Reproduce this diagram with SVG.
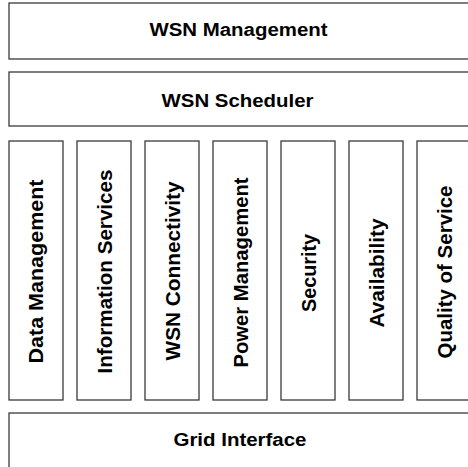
<svg xmlns="http://www.w3.org/2000/svg" width="468" height="467" viewBox="0 0 468 467">
<style>
rect{fill:#fff;stroke:#3a3a3a;stroke-width:1.3}
text{font-family:"Liberation Sans",Arial,sans-serif;font-weight:bold;fill:#000;text-anchor:middle}
.h{font-size:17.5px}
.v{font-size:19.5px}
</style>
<rect x="0" y="0" width="468" height="467" style="fill:#fff;stroke:none"/>
<g id="wsn-management"><rect x="9" y="3" width="470" height="56"/><text class="h" x="238.5" y="35.5" textLength="178" lengthAdjust="spacingAndGlyphs">WSN Management</text></g>
<g id="wsn-scheduler"><rect x="9" y="72" width="470" height="54"/><text class="h" x="237.5" y="107" textLength="152" lengthAdjust="spacingAndGlyphs">WSN Scheduler</text></g>
<g id="data-management"><rect x="9" y="141" width="54" height="259"/><text class="v" transform="translate(43,271.5) rotate(-90)" textLength="184" lengthAdjust="spacingAndGlyphs">Data Management</text></g>
<g id="information-services"><rect x="77" y="141" width="54" height="259"/><text class="v" transform="translate(111.5,271.5) rotate(-90)" textLength="204" lengthAdjust="spacingAndGlyphs">Information Services</text></g>
<g id="wsn-connectivity"><rect x="145" y="141" width="54" height="259"/><text class="v" transform="translate(180,271) rotate(-90)" textLength="179" lengthAdjust="spacingAndGlyphs">WSN Connectivity</text></g>
<g id="power-management"><rect x="213" y="141" width="54" height="259"/><text class="v" transform="translate(248,272.5) rotate(-90)" textLength="190" lengthAdjust="spacingAndGlyphs">Power Management</text></g>
<g id="security"><rect x="281" y="141" width="54" height="259"/><text class="v" transform="translate(316,273) rotate(-90)" textLength="78" lengthAdjust="spacingAndGlyphs">Security</text></g>
<g id="availability"><rect x="349" y="141" width="54" height="259"/><text class="v" transform="translate(384,273) rotate(-90)" textLength="109" lengthAdjust="spacingAndGlyphs">Availability</text></g>
<g id="quality-of-service"><rect x="417" y="141" width="60" height="259"/><text class="v" transform="translate(452,272) rotate(-90)" textLength="173" lengthAdjust="spacingAndGlyphs">Quality of Service</text></g>
<g id="grid-interface"><rect x="9" y="413" width="470" height="60"/><text class="h" x="240" y="445.5" textLength="133" lengthAdjust="spacingAndGlyphs">Grid Interface</text></g>
<g id="connectors"></g>
</svg>
